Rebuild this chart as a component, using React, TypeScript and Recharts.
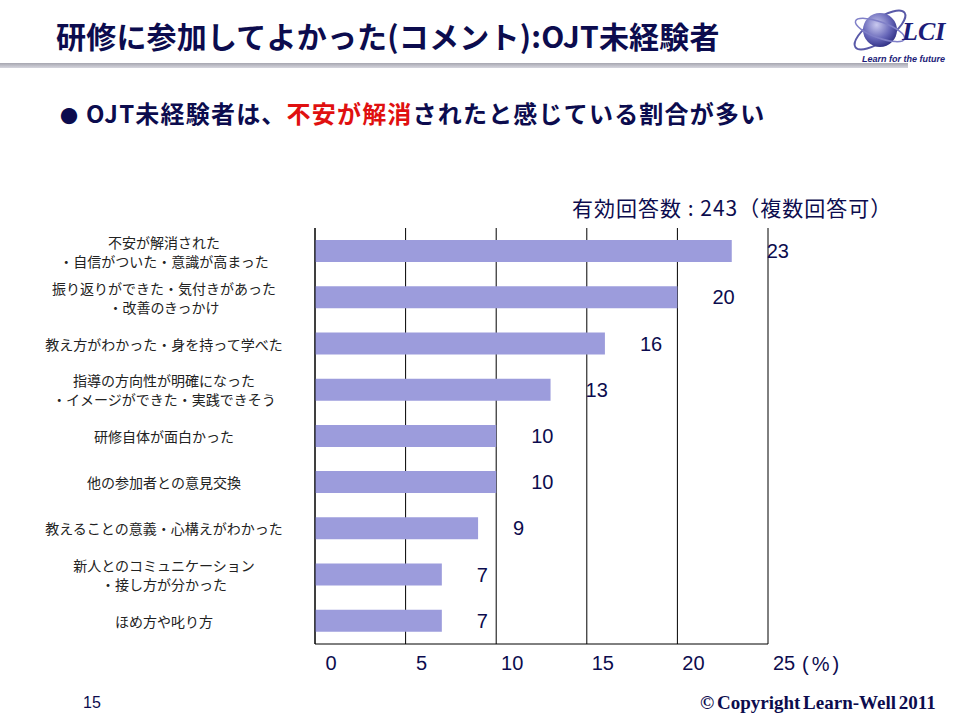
import { BarChart, Bar, XAxis, YAxis, CartesianGrid, LabelList } from "recharts";

const categories = [
  "不安が解消された\n・自信がついた・意識が高まった",
  "振り返りができた・気付きがあった\n・改善のきっかけ",
  "教え方がわかった・身を持って学べた",
  "指導の方向性が明確になった\n・イメージができた・実践できそう",
  "研修自体が面白かった",
  "他の参加者との意見交換",
  "教えることの意義・心構えがわかった",
  "新人とのコミュニケーション\n・接し方が分かった",
  "ほめ方や叱り方",
];
const percentages = [23, 20, 16, 13, 10, 10, 9, 7, 7];
const xTicks = [0, 5, 10, 15, 20, 25];

const data = categories.map((name, i) => ({ name, value: percentages[i] }));

const NAVY = "#0c0c4e";
const JP = "'Noto Sans CJK JP', 'Noto Sans', sans-serif";
const ARIAL = "'Liberation Sans', Arial, sans-serif";

const CategoryTick = (props: any) => {
  const { x, y, payload } = props;
  const lines = String(payload.value).split("\n");
  const lh = 19;
  const start = y - ((lines.length - 1) * lh) / 2;
  return (
    <text x={x - 143} y={start} textAnchor="middle" fontSize={14} fill="#222" fontFamily={JP} dominantBaseline="central">
      {lines.map((l, i) => (
        <tspan key={i} x={x - 143} y={start + i * lh}>
          {l}
        </tspan>
      ))}
    </text>
  );
};

const ValueTick = (props: any) => {
  const { x, y, payload } = props;
  return (
    <text x={x + 16} y={y + 18} textAnchor="middle" fontSize={20} fill={NAVY} fontFamily={ARIAL}>
      {payload.value}
    </text>
  );
};

const abs = (style: React.CSSProperties): React.CSSProperties => ({ position: "absolute", margin: 0, whiteSpace: "nowrap", ...style });

export default function App() {
  return (
    <div style={{ position: "absolute", left: 0, top: 0, width: 960, height: 720, background: "#fff", overflow: "hidden" }}>
      <div style={abs({ left: 56, top: 14, fontSize: 30, fontWeight: 700, color: NAVY, fontFamily: JP, lineHeight: "42px", letterSpacing: 0.2 })}>
        研修に参加してよかった(コメント):OJT未経験者
      </div>
      <div style={abs({ left: 0, top: 63, width: 908, height: 5, background: "linear-gradient(to bottom, #a6a6b0, #d6d6de)" })} />

      <svg width={110} height={70} style={{ position: "absolute", left: 848, top: 0 }}>
        <defs>
          <radialGradient id="globe" cx="0.4" cy="0.35" r="0.7">
            <stop offset="0%" stopColor="#c9c9ef" />
            <stop offset="60%" stopColor="#6666b8" />
            <stop offset="100%" stopColor="#2c2c80" />
          </radialGradient>
        </defs>
        <ellipse cx={32} cy={30} rx={30} ry={11} fill="none" stroke="#5a5aa8" strokeWidth={2} transform="rotate(-35 32 30)" />
        <circle cx={32} cy={30} r={17} fill="url(#globe)" />
        <ellipse cx={32} cy={30} rx={26} ry={8} fill="none" stroke="#8080c8" strokeWidth={1.5} transform="rotate(20 32 30)" />
        <text x={54} y={40} fontSize={26} fontWeight={700} fontStyle="italic" fill="#1c1c78" fontFamily="'Liberation Serif', serif">
          LCI
        </text>
        <text x={14} y={62} fontSize={9} fontWeight={700} fontStyle="italic" fill="#1c1c78" fontFamily={ARIAL}>
          Learn for the future
        </text>
      </svg>

      <div style={abs({ left: 60, top: 96, fontSize: 24, fontWeight: 700, color: NAVY, fontFamily: JP, lineHeight: "34px", letterSpacing: 1.2 })}>
        <span style={{ fontSize: 18, marginRight: 8, letterSpacing: 0 }}>●</span>
        OJT未経験者は、<span style={{ color: "#e01010" }}>不安が解消</span>されたと感じている割合が多い
      </div>

      <div style={abs({ left: 572, top: 192, fontSize: 21, color: NAVY, fontFamily: JP, lineHeight: "30px", letterSpacing: 1 })}>
        有効回答数 : 243（複数回答可）
      </div>

      <div style={{ position: "absolute", left: 0, top: 0 }}>
        <BarChart width={960} height={720} data={data} layout="vertical" margin={{ top: 228, right: 192, bottom: 36, left: 15 }}>
          <CartesianGrid horizontal={false} vertical stroke="#000" strokeWidth={1} />
          <XAxis
            type="number"
            domain={[0, 25]}
            ticks={xTicks}
            interval={0}
            axisLine={{ stroke: "#000" }}
            tickLine={false}
            tick={<ValueTick />}
            height={40}
          />
          <YAxis type="category" dataKey="name" width={300} axisLine={{ stroke: "#000" }} tickLine={false} tick={<CategoryTick />} interval={0} />
          <Bar dataKey="value" fill="#9c9cdc" barSize={22} isAnimationActive={false}>
            <LabelList dataKey="value" position="right" offset={35} fill={NAVY} fontSize={20} fontFamily={ARIAL} />
          </Bar>
        </BarChart>
      </div>

      <div style={abs({ left: 802, top: 651, fontSize: 20, color: NAVY, fontFamily: ARIAL, lineHeight: "26px", letterSpacing: 3 })}>(%)</div>

      <div style={abs({ left: 83, top: 693, fontSize: 16, color: NAVY, fontFamily: ARIAL, lineHeight: "20px" })}>15</div>
      <div style={abs({ left: 700, top: 691, fontSize: 19, fontWeight: 700, color: NAVY, fontFamily: "'Liberation Serif', serif", lineHeight: "24px", wordSpacing: -2 })}>
        © Copyright Learn-Well 2011
      </div>
    </div>
  );
}
